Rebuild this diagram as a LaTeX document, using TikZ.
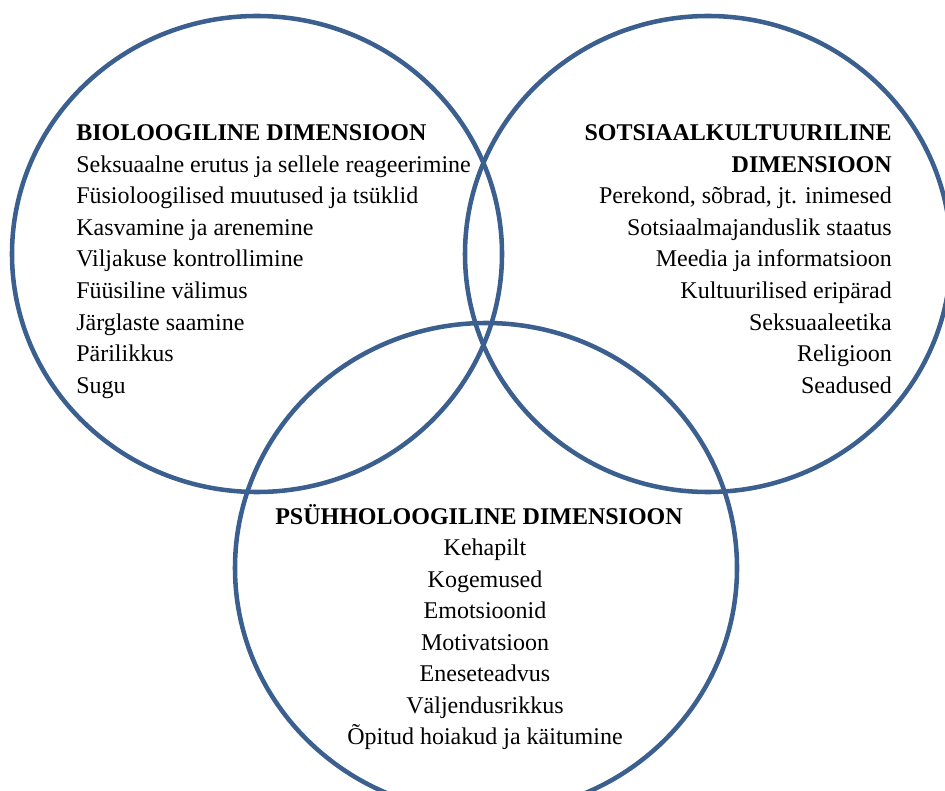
\documentclass[tikz,border=0pt]{standalone}
\usepackage{fontspec}
\setmainfont{Liberation Serif}
\definecolor{ringc}{RGB}{59,95,142}
\begin{document}
\begin{tikzpicture}[x=0.75pt,y=-0.75pt,
  ring/.style={draw=ringc,line width=3.4pt},
  txt/.style={inner sep=0pt,font=\fontsize{18}{23.6}\selectfont},
  head/.style={inner sep=0pt,font=\fontsize{18}{23.6}\selectfont\bfseries}]
\useasboundingbox (0,0) rectangle (945,791);
\clip (0,0) rectangle (945,791);
% circles
\draw[ring] (257,254) ellipse [x radius=183.75pt, y radius=178.5pt];
\draw[ring] (708,254) ellipse [x radius=182.25pt, y radius=178.5pt];
\draw[ring] (486,568) ellipse [x radius=188.25pt, y radius=183.75pt];
% biological
\node[head,anchor=base west] (bh) at (76,140.7) {BIOLOOGILINE DIMENSIOON};
\node[txt,anchor=base west] (b1) at (76,172.3) {Seksuaalne erutus ja sellele reageerimine};
\node[txt,anchor=base west] (b2) at (76,203.8) {Füsioloogilised muutused ja tsüklid};
\node[txt,anchor=base west] (b3) at (76,235.4) {Kasvamine ja arenemine};
\node[txt,anchor=base west] (b4) at (76,266.9) {Viljakuse kontrollimine};
\node[txt,anchor=base west] (b5) at (76,298.5) {Füüsiline välimus};
\node[txt,anchor=base west] (b6) at (76,330.0) {Järglaste saamine};
\node[txt,anchor=base west] (b7) at (76,361.6) {Pärilikkus};
\node[txt,anchor=base west] (b8) at (76,393.1) {Sugu};
% sociocultural
\node[head,anchor=base east] (sh1) at (892,140.7) {SOTSIAALKULTUURILINE};
\node[head,anchor=base east] (sh2) at (892,172.3) {DIMENSIOON};
\node[txt,anchor=base east] (s1) at (892,203.8) {Perekond, sõbrad, jt. inimesed};
\node[txt,anchor=base east] (s2) at (892,235.4) {Sotsiaalmajanduslik staatus};
\node[txt,anchor=base east] (s3) at (892,266.9) {Meedia ja informatsioon};
\node[txt,anchor=base east] (s4) at (892,298.5) {Kultuurilised eripärad};
\node[txt,anchor=base east] (s5) at (892,330.0) {Seksuaaleetika};
\node[txt,anchor=base east] (s6) at (892,361.6) {Religioon};
\node[txt,anchor=base east] (s7) at (892,393.1) {Seadused};
% psychological
\node[head,anchor=base] (ph) at (479,524) {PSÜHHOLOOGILINE DIMENSIOON};
\node[txt,anchor=base] (p1) at (485,555.5) {Kehapilt};
\node[txt,anchor=base] (p2) at (485,587.0) {Kogemused};
\node[txt,anchor=base] (p3) at (485,618.5) {Emotsioonid};
\node[txt,anchor=base] (p4) at (485,650.0) {Motivatsioon};
\node[txt,anchor=base] (p5) at (485,681.5) {Eneseteadvus};
\node[txt,anchor=base] (p6) at (485,713.0) {Väljendusrikkus};
\node[txt,anchor=base] (p7) at (485,744.5) {Õpitud hoiakud ja käitumine};
\end{tikzpicture}
\end{document}
